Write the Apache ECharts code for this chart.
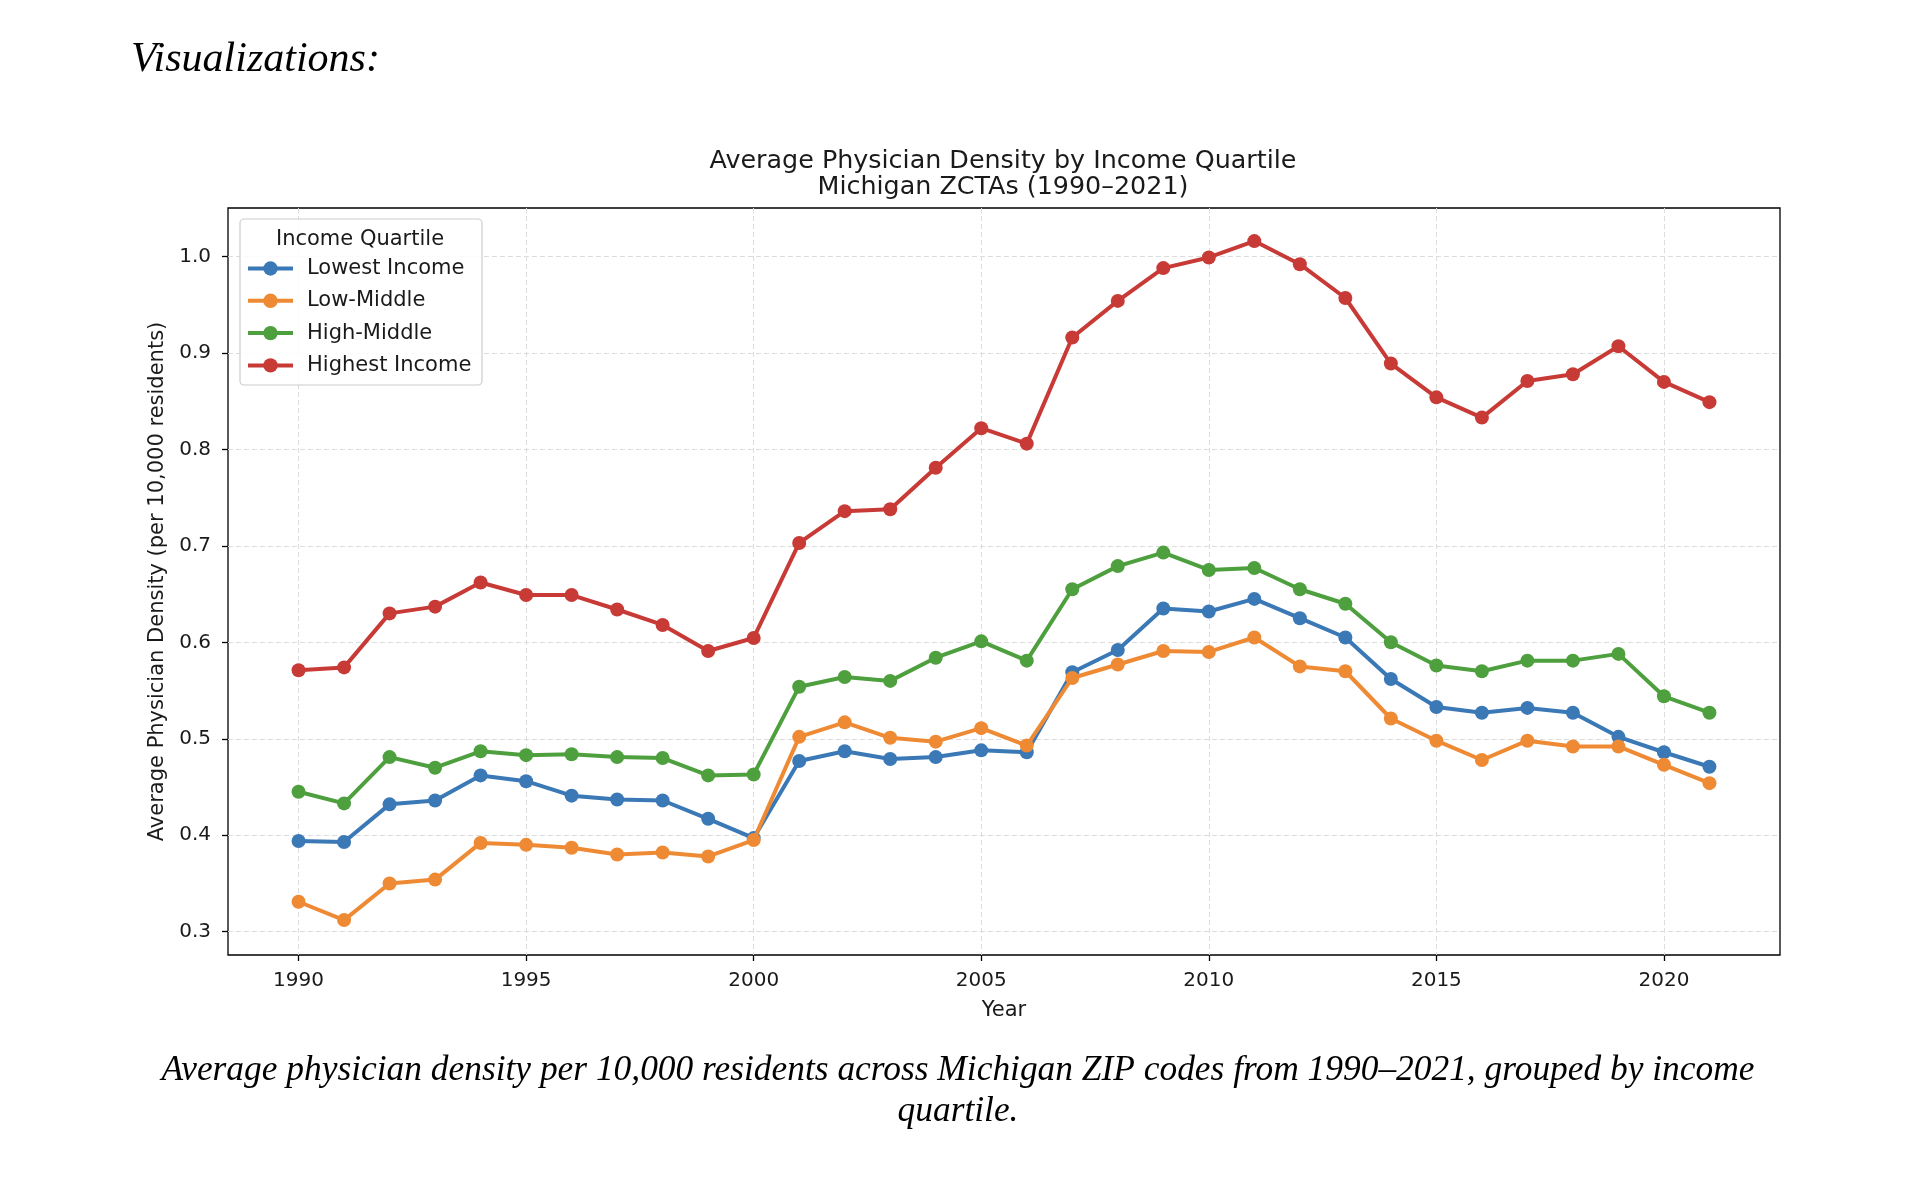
<!DOCTYPE html>
<html>
<head>
<meta charset="utf-8">
<script src="https://cdn.jsdelivr.net/npm/echarts@6/dist/echarts.min.js"></script>
<style>
html,body{margin:0;padding:0;background:#fff;}
#chart{width:1918px;height:1186px;}
</style>
</head>
<body>
<div id="chart"></div>
<script>
const years = [1990,1991,1992,1993,1994,1995,1996,1997,1998,1999,2000,2001,2002,2003,2004,2005,2006,2007,2008,2009,2010,2011,2012,2013,2014,2015,2016,2017,2018,2019,2020,2021];
const lowestIncome = [0.394,0.393,0.432,0.436,0.462,0.456,0.441,0.437,0.436,0.417,0.397,0.477,0.487,0.479,0.481,0.488,0.486,0.569,0.592,0.635,0.632,0.645,0.625,0.605,0.562,0.533,0.527,0.532,0.527,0.502,0.486,0.471];
const lowMiddle = [0.331,0.312,0.350,0.354,0.392,0.390,0.387,0.380,0.382,0.378,0.395,0.502,0.517,0.501,0.497,0.511,0.493,0.563,0.577,0.591,0.590,0.605,0.575,0.570,0.521,0.498,0.478,0.498,0.492,0.492,0.473,0.454];
const highMiddle = [0.445,0.433,0.481,0.470,0.487,0.483,0.484,0.481,0.480,0.462,0.463,0.554,0.564,0.560,0.584,0.601,0.581,0.655,0.679,0.693,0.675,0.677,0.655,0.640,0.600,0.576,0.570,0.581,0.581,0.588,0.544,0.527];
const highestIncome = [0.571,0.574,0.630,0.637,0.662,0.649,0.649,0.634,0.618,0.591,0.6045,0.703,0.736,0.738,0.781,0.822,0.806,0.916,0.954,0.988,0.999,1.016,0.992,0.957,0.889,0.854,0.833,0.871,0.878,0.907,0.870,0.849];
const seriesNames = ['Lowest Income','Low-Middle','High-Middle','Highest Income'];
const seriesColors = ['#3a78b6','#ef8a34','#4e9f3d','#c83a36'];
const xTicks = [1990,1995,2000,2005,2010,2015,2020];
const yTicks = [0.3,0.4,0.5,0.6,0.7,0.8,0.9,1.0];

const seriesData = [lowestIncome, lowMiddle, highMiddle, highestIncome];
const FONT = 'DejaVu Sans';
const SERIF = 'Liberation Serif';
const textColor = '#1a1a1a';

const chart = echarts.init(document.getElementById('chart'), null, {renderer:'canvas'});

const series = seriesNames.map((name, i) => ({
  name: name,
  type: 'line',
  data: years.map((y, k) => [y, seriesData[i][k]]),
  symbol: 'circle',
  symbolSize: 14,
  showSymbol: true,
  lineStyle: {width: 4, color: seriesColors[i]},
  itemStyle: {color: seriesColors[i]},
  emphasis: {disabled: true},
  animation: false,
  z: 3 + i
}));

const option = {
  backgroundColor: '#ffffff',
  animation: false,
  title: [
    {
      text: 'Visualizations:',
      left: 126, top: 32,
      textStyle: {fontFamily: SERIF, fontStyle: 'italic', fontWeight: 'normal', fontSize: 42, color: '#000', lineHeight: 46}
    },
    {
      text: 'Average Physician Density by Income Quartile\nMichigan ZCTAs (1990–2021)',
      left: 998, top: 143, textAlign: 'center',
      textStyle: {fontFamily: FONT, fontWeight: 'normal', fontSize: 25.4, color: textColor, lineHeight: 26, align: 'center'}
    },
    {
      text: 'Average physician density per 10,000 residents across Michigan ZIP codes from 1990–2021, grouped by income\nquartile.',
      left: 953, top: 1045, textAlign: 'center',
      textStyle: {fontFamily: SERIF, fontStyle: 'italic', fontWeight: 'normal', fontSize: 35.4, color: '#000', lineHeight: 41, align: 'center'}
    }
  ],
  grid: {
    left: 228, top: 208, width: 1552, height: 747,
    show: true, borderColor: '#000', borderWidth: 1.3, backgroundColor: 'transparent',
    outerBoundsMode: 'none', containLabel: false
  },
  legend: {
    data: seriesNames,
    orient: 'vertical',
    left: 246, top: 258,
    padding: 0,
    itemWidth: 45, itemHeight: 18,
    itemGap: 11.3,
    selectedMode: false,
    lineStyle: {width: 4},
    textStyle: {fontFamily: FONT, fontSize: 21, color: textColor, lineHeight: 21, padding: [0,0,0,9]},
    z: 10
  },
  graphic: [
    {
      type: 'rect', z: 5,
      shape: {x: 240, y: 219, width: 242, height: 166, r: 4},
      style: {fill: 'rgba(255,255,255,0.85)', stroke: '#cccccc', lineWidth: 1.2}
    },
    {
      type: 'text', z: 6,
      x: 360, y: 239.5,
      style: {text: 'Income Quartile', fontFamily: FONT, fontSize: 21, fill: textColor, align: 'center', verticalAlign: 'middle'}
    }
  ],
  xAxis: {
    type: 'value',
    min: 1988.45, max: 2022.55,
    name: 'Year', nameLocation: 'middle', nameGap: 45,
    nameTextStyle: {fontFamily: FONT, fontSize: 21, color: textColor},
    axisLine: {show: false},
    axisTick: {show: true, inside: false, length: 6, lineStyle: {color: '#000', width: 1.3}, customValues: xTicks},
    axisLabel: {show: true, margin: 15.5, fontFamily: FONT, fontSize: 20, color: textColor, customValues: xTicks, formatter: v => String(v)},
    splitLine: {show: true, lineStyle: {color: '#dcdcdc', width: 1, type: [5, 3]}}
  },
  yAxis: {
    type: 'value',
    min: 0.2758, max: 1.0503,
    name: 'Average Physician Density (per 10,000 residents)', nameLocation: 'middle', nameGap: 58,
    nameTextStyle: {fontFamily: FONT, fontSize: 21, color: textColor},
    axisLine: {show: false},
    axisTick: {show: true, inside: false, length: 6, lineStyle: {color: '#000', width: 1.3}, customValues: yTicks},
    axisLabel: {show: true, margin: 17, fontFamily: FONT, fontSize: 20, color: textColor, customValues: yTicks, formatter: v => Number(v).toFixed(1)},
    splitLine: {show: true, lineStyle: {color: '#dcdcdc', width: 1, type: [5, 3]}}
  },
  series: series
};
chart.setOption(option);
</script>
</body>
</html>
